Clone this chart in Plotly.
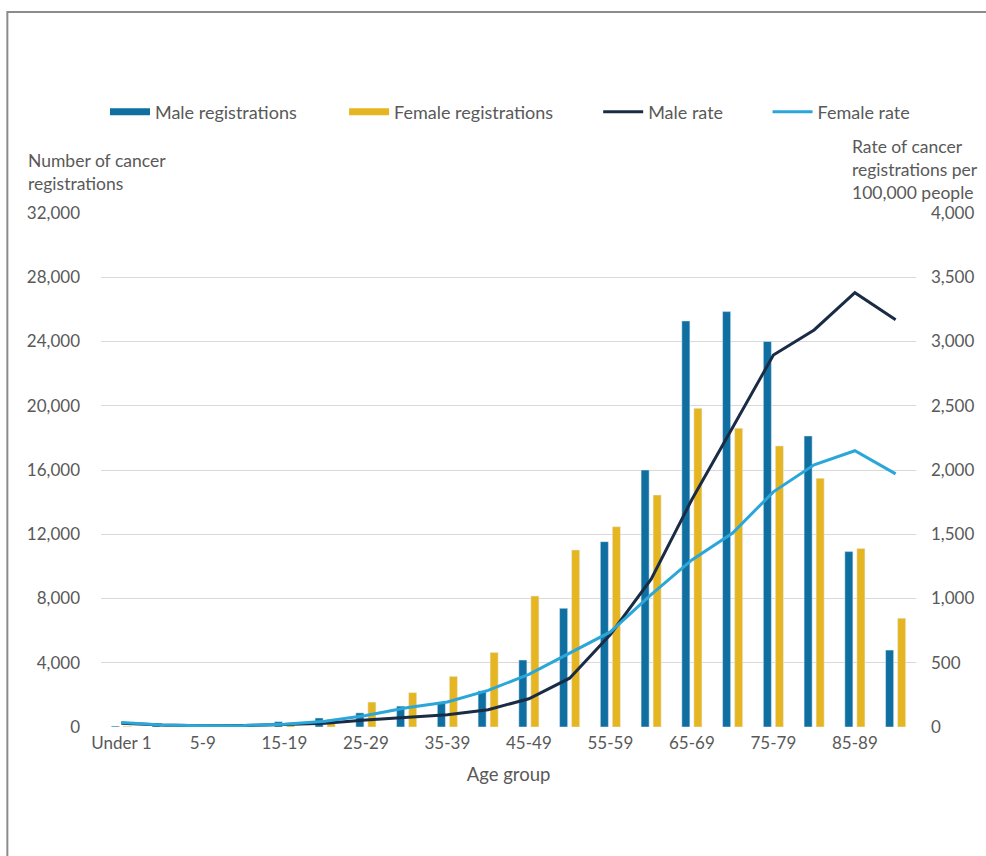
import plotly.graph_objects as go

# Age bands on the category axis
age_groups = ["Under 1", "1-4", "5-9", "10-14", "15-19", "20-24", "25-29", "30-34",
              "35-39", "40-44", "45-49", "50-54", "55-59", "60-64", "65-69", "70-74",
              "75-79", "80-84", "85-89", "90+"]
tick_labels = age_groups[::2]

# Number of cancer registrations
male_registrations = [60, 120, 90, 110, 330, 560, 880, 1300, 1500, 2250, 4170, 7390,
                      11540, 16000, 25280, 25860, 24000, 18120, 10920, 4790]
female_registrations = [50, 100, 80, 100, 250, 480, 1550, 2140, 3150, 4640, 8150, 11020,
                        12470, 14440, 19840, 18600, 17500, 15480, 11120, 6770]

# Rate of cancer registrations per 100,000 people
male_rate = [30, 15, 10, 12, 20, 30, 55, 75, 95, 135, 220, 380, 720, 1150, 1770, 2330,
             2895, 3090, 3380, 3170]
female_rate = [35, 15, 10, 12, 22, 45, 90, 150, 195, 285, 410, 575, 740, 1030, 1300,
               1510, 1830, 2040, 2150, 1970]

MALE_BAR = "#0f6fa0"
FEMALE_BAR = "#e6b622"
MALE_LINE = "#1a2c45"
FEMALE_LINE = "#2ba6d9"
TEXT = "#595959"
GRID = "#d9d9d9"
FONT = "Lato"
FS = 18
TICK_FS = 17
TITLE_FS = 17.5

fig = go.Figure()

fig.add_trace(go.Bar(x=age_groups, y=male_registrations, marker_color=MALE_BAR,
                     name="Male registrations", showlegend=False, yaxis="y"))
fig.add_trace(go.Bar(x=age_groups, y=female_registrations, marker_color=FEMALE_BAR,
                     name="Female registrations", showlegend=False, yaxis="y"))
fig.add_trace(go.Scatter(x=age_groups, y=male_rate, mode="lines", name="Male rate",
                         line=dict(color=MALE_LINE, width=3), yaxis="y2",
                         legend="legend3"))
fig.add_trace(go.Scatter(x=age_groups, y=female_rate, mode="lines", name="Female rate",
                         line=dict(color=FEMALE_LINE, width=3), yaxis="y2",
                         legend="legend4"))

# Wide swatches for the bar series in the key
fig.add_trace(go.Scatter(x=[None], y=[None], mode="lines", name="Male registrations",
                         line=dict(color=MALE_BAR, width=7), legend="legend"))
fig.add_trace(go.Scatter(x=[None], y=[None], mode="lines", name="Female registrations",
                         line=dict(color=FEMALE_BAR, width=7), legend="legend2"))


def px_x(px):
    return (px - 101) / 818


def px_y(py):
    return (727 - py) / 514


legend_common = dict(orientation="h", yanchor="middle", xanchor="left",
                     y=px_y(112), font=dict(family=FONT, size=FS, color=TEXT),
                     bgcolor="rgba(0,0,0,0)", itemwidth=40)

fig.update_layout(
    width=986, height=856,
    margin=dict(l=101, r=67, t=213, b=129),
    paper_bgcolor="white", plot_bgcolor="white",
    font=dict(family=FONT, size=FS, color=TEXT),
    barmode="group", bargap=0.41, bargroupgap=0.33,
    legend=dict(x=px_x(105), **legend_common),
    legend2=dict(x=px_x(345), **legend_common),
    legend3=dict(x=px_x(600), **legend_common),
    legend4=dict(x=px_x(770), **legend_common),
    xaxis=dict(type="category", categoryorder="array", categoryarray=age_groups,
               tickmode="array", tickvals=tick_labels, ticktext=tick_labels,
               showgrid=False, showline=False, ticks="", ticklabelstandoff=4,
               tickfont=dict(family=FONT, size=TICK_FS, color=TEXT),
               title=dict(text="Age group", standoff=16,
                          font=dict(family=FONT, size=18.5, color=TEXT))),
    yaxis=dict(range=[0, 32000], dtick=4000, tickformat=",", showgrid=True,
               gridcolor=GRID, gridwidth=1, zeroline=False, showline=False,
               ticks="", ticklabelstandoff=20,
               tickfont=dict(family=FONT, size=TICK_FS, color=TEXT)),
    yaxis2=dict(range=[0, 4000], dtick=500, tickformat=",", overlaying="y",
                side="right", showgrid=False, zeroline=False, showline=False,
                ticks="", ticklabelstandoff=14,
                tickfont=dict(family=FONT, size=TICK_FS, color=TEXT)),
    annotations=[
        dict(text="Number of cancer<br>registrations", xref="paper", yref="paper",
             x=px_x(26), y=px_y(172), xanchor="left", yanchor="middle", align="left",
             showarrow=False, font=dict(family=FONT, size=TITLE_FS, color=TEXT)),
        dict(text="Rate of cancer<br>registrations per<br>100,000 people",
             xref="paper", yref="paper", x=px_x(853), y=px_y(169), xanchor="left",
             yanchor="middle", align="left", showarrow=False,
             font=dict(family=FONT, size=TITLE_FS, color=TEXT)),
    ],
    shapes=[
        dict(type="rect", xref="paper", yref="paper",
             x0=px_x(7), x1=px_x(1000), y0=px_y(870), y1=px_y(12),
             line=dict(color="#8c8c8c", width=2), fillcolor="rgba(0,0,0,0)",
             layer="below"),
    ],
)

fig.write_html("out.html")
